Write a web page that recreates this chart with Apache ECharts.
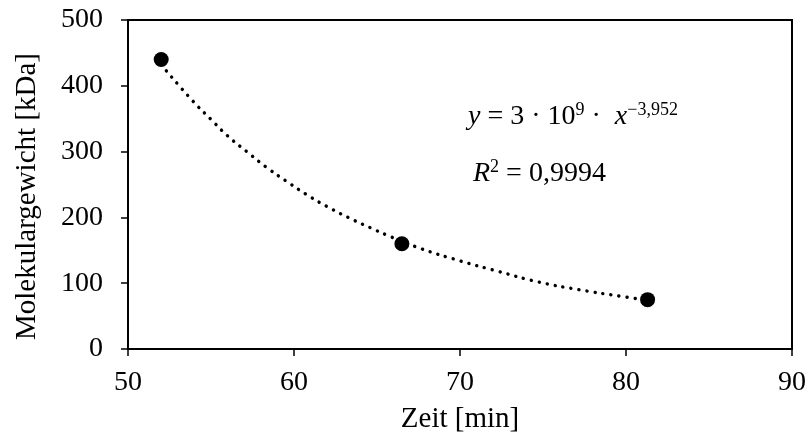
<!DOCTYPE html>
<html>
<head>
<meta charset="utf-8">
<script src="https://cdn.jsdelivr.net/npm/echarts@6/dist/echarts.min.js"></script>
<style>
  html, body { margin: 0; padding: 0; background: #fff; }
  #chart { width: 809px; height: 435px; }
</style>
</head>
<body>
<div id="chart"></div>
<script>
// measured points (time in min, molecular weight in kDa)
const pointTimes = [52.0, 66.5, 81.3];
const pointWeights = [440, 160, 75];

// dotted power trendline
const trendTimes = [52.0, 53.9, 55.0, 56.0, 57.2, 58.4, 59.6, 60.8, 62.1, 63.5, 64.8, 65.7, 67.6, 70.0, 72.3, 74.7, 77.2, 79.7, 81.3];
const trendWeights = [432, 377, 349, 324, 299, 275, 254, 234, 215, 197, 182, 172, 153, 134, 118, 102, 90, 80, 74];

const xTicks = [50, 60, 70, 80, 90];
const yTicks = [0, 100, 200, 300, 400, 500];

const fontFamily = "'Liberation Serif', 'Times New Roman', serif";

const chart = echarts.init(document.getElementById("chart"));

const points = pointTimes.map((t, i) => [t, pointWeights[i]]);
const trend = trendTimes.map((t, i) => [t, trendWeights[i]]);

const eqRich = {
  i: { fontFamily: fontFamily, fontStyle: "italic", fontWeight: "normal", fontSize: 28, color: "#000", lineHeight: 30, verticalAlign: "bottom" },
  n: { fontFamily: fontFamily, fontWeight: "normal", fontSize: 28, color: "#000", lineHeight: 30, verticalAlign: "bottom" },
  s1: { fontFamily: fontFamily, fontWeight: "normal", fontSize: 18, color: "#000", lineHeight: 20, verticalAlign: "top" },
  s2: { fontFamily: fontFamily, fontWeight: "normal", fontSize: 18, color: "#000", lineHeight: 12, verticalAlign: "top" }
};

const option = {
  animation: false,
  backgroundColor: "#fff",
  title: [
    {
      left: 468,
      top: 101,
      padding: 0,
      text: "{i|y}{n| = 3 · 10}{s1|9}{n| ·  }{i|x}{s2|−3,952}",
      textStyle: { fontWeight: "normal", rich: eqRich }
    },
    {
      left: 473,
      top: 158,
      padding: 0,
      text: "{i|R}{s1|2}{n| = 0,9994}",
      textStyle: { fontWeight: "normal", rich: eqRich }
    }
  ],
  grid: {
    left: 128,
    right: 17,
    top: 20,
    bottom: 86,
    show: true,
    borderColor: "#000",
    borderWidth: 2,
    containLabel: false,
    outerBoundsMode: "none"
  },
  xAxis: {
    type: "value",
    min: xTicks[0],
    max: xTicks[xTicks.length - 1],
    interval: 10,
    name: "Zeit [min]",
    nameLocation: "middle",
    nameGap: 56,
    nameTextStyle: { fontFamily: fontFamily, fontSize: 29, color: "#000" },
    axisLine: { lineStyle: { color: "#000", width: 2 } },
    axisTick: { show: true, length: 7, lineStyle: { color: "#000", width: 1.5 } },
    axisLabel: { fontFamily: fontFamily, fontSize: 28, color: "#000", margin: 20 },
    splitLine: { show: false }
  },
  yAxis: {
    type: "value",
    min: yTicks[0],
    max: yTicks[yTicks.length - 1],
    interval: 100,
    name: "Molekulargewicht [kDa]",
    nameLocation: "middle",
    nameGap: 86,
    nameTextStyle: { fontFamily: fontFamily, fontSize: 29, color: "#000", padding: [0, 24, 0, 0] },
    axisLine: { lineStyle: { color: "#000", width: 2 } },
    axisTick: { show: true, length: 7, lineStyle: { color: "#000", width: 1.5 } },
    axisLabel: { fontFamily: fontFamily, fontSize: 28, color: "#000", margin: 25 },
    splitLine: { show: false }
  },
  series: [
    {
      type: "line",
      data: trend,
      smooth: true,
      showSymbol: false,
      symbol: "none",
      lineStyle: { color: "#000", width: 3.4, type: [0.1, 8], cap: "round" },
      z: 2
    },
    {
      type: "scatter",
      data: points,
      symbolSize: 15,
      itemStyle: { color: "#000", opacity: 1 },
      z: 3
    }
  ]
};

chart.setOption(option);
</script>
</body>
</html>
